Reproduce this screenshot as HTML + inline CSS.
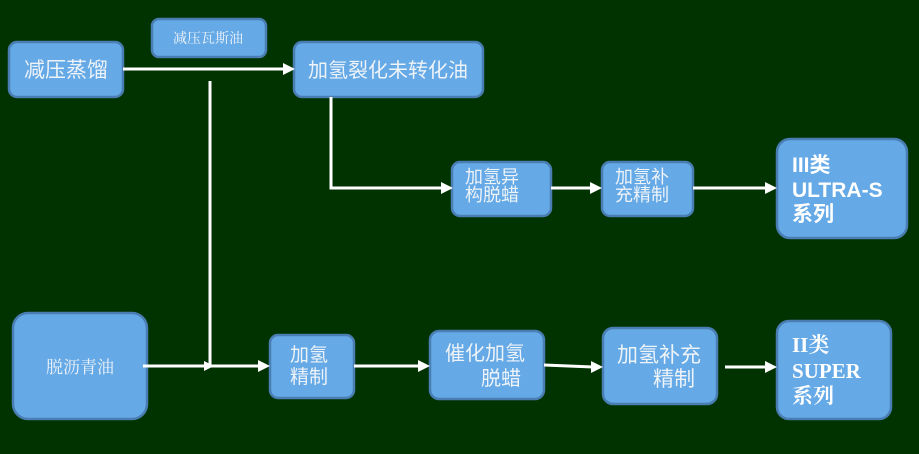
<!DOCTYPE html>
<html><head><meta charset="utf-8"><style>
html,body{margin:0;padding:0;background:#003300;}
svg{display:block;}
.s{font-family:"Liberation Sans","Noto Sans CJK SC",sans-serif;fill:#eef3f8;}
.sf{font-family:"Liberation Serif","Noto Serif CJK SC",serif;fill:#eef3f8;}
.b{font-family:"Liberation Sans","Noto Sans CJK SC",sans-serif;fill:#ffffff;font-weight:bold;}
.bs{font-family:"Liberation Serif","Noto Serif CJK SC",serif;fill:#ffffff;font-weight:bold;}
</style></head><body>
<svg width="919" height="454" viewBox="0 0 919 454" xmlns="http://www.w3.org/2000/svg">
<rect width="919" height="454" fill="#003300"/>
<g fill="#65a9e6" stroke="#4a7db2" stroke-width="2.5">
<rect x="9" y="42" width="114" height="55" rx="8"/>
<rect x="152" y="19" width="114" height="38" rx="7"/>
<rect x="294" y="42" width="189" height="55" rx="8"/>
<rect x="452" y="162" width="99" height="54" rx="8"/>
<rect x="602" y="162" width="91" height="54" rx="8"/>
<rect x="777" y="139" width="130" height="99" rx="13"/>
<rect x="13" y="313" width="134" height="106" rx="15"/>
<rect x="270" y="335" width="84" height="63" rx="8"/>
<rect x="430" y="331" width="114" height="68" rx="9"/>
<rect x="603" y="328" width="114" height="76" rx="10"/>
<rect x="777" y="321" width="114" height="98" rx="12"/>
</g>
<g stroke="#ffffff" stroke-width="3" fill="none">
<line x1="123" y1="69" x2="285" y2="69"/>
<line x1="210" y1="81" x2="210" y2="367"/>
<polyline points="331,97 331,188 443,188"/>
<line x1="551" y1="188" x2="592" y2="188"/>
<line x1="693" y1="188" x2="767" y2="188"/>
<line x1="143" y1="366" x2="260" y2="366"/>
<line x1="354" y1="366" x2="420" y2="366"/>
<line x1="544" y1="365" x2="593" y2="367"/>
<line x1="725" y1="367" x2="767" y2="367"/>
</g>
<g fill="#ffffff">
<polygon points="283,63 295,69 283,75"/>
<polygon points="441,182 453,188 441,194"/>
<polygon points="590,182 602,188 590,194"/>
<polygon points="765,182 777,188 765,194"/>
<polygon points="204,361 214,366 204,371"/>
<polygon points="258,360 270,366 258,372"/>
<polygon points="418,360 430,366 418,372"/>
<polygon points="591,361 603,367 591,373"/>
<polygon points="765,361 777,367 765,373"/>
</g>
<text class="s" x="66" y="77" font-size="21" text-anchor="middle">减压蒸馏</text>
<text class="sf" x="208" y="43" font-size="14" text-anchor="middle">减压瓦斯油</text>
<text class="s" x="388" y="77" font-size="20" text-anchor="middle">加氢裂化未转化油</text>
<text class="s" x="465" y="183" font-size="18">加氢异</text>
<text class="s" x="465" y="201" font-size="18">构脱蜡</text>
<text class="s" x="615" y="183" font-size="18">加氢补</text>
<text class="s" x="615" y="201" font-size="18">充精制</text>
<text class="b" x="792" y="172" font-size="21">III类</text>
<text class="b" x="792" y="197" font-size="21">ULTRA-S</text>
<text class="b" x="792" y="221" font-size="21">系列</text>
<text class="sf" x="80" y="373" font-size="17" text-anchor="middle">脱沥青油</text>
<text class="s" x="290" y="361" font-size="19">加氢</text>
<text class="s" x="290" y="383" font-size="19">精制</text>
<text class="s" x="445" y="360" font-size="20">催化加氢</text>
<text class="s" x="481" y="385" font-size="20">脱蜡</text>
<text class="s" x="617" y="362" font-size="21">加氢补充</text>
<text class="s" x="653" y="386" font-size="21">精制</text>
<text class="bs" x="792" y="352" font-size="21">II类</text>
<text class="bs" x="792" y="378" font-size="21">SUPER</text>
<text class="bs" x="792" y="403" font-size="21">系列</text>
</svg>
</body></html>
